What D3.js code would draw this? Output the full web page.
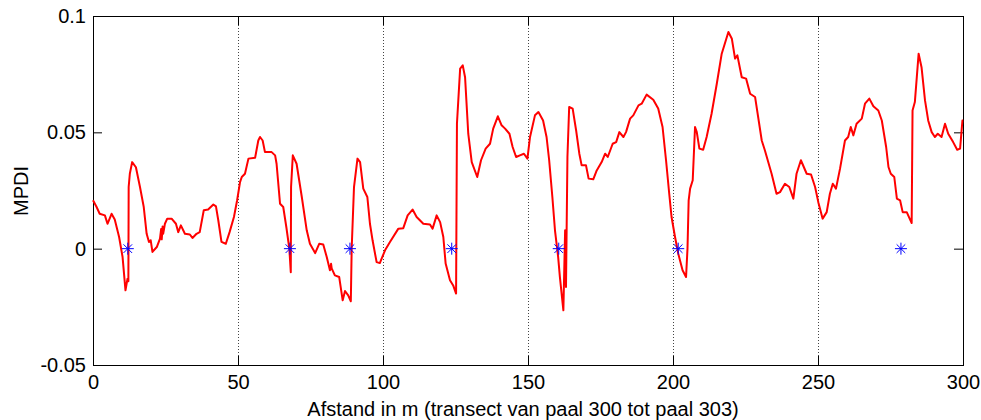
<!DOCTYPE html>
<html>
<head>
<meta charset="utf-8">
<script src="https://cdn.jsdelivr.net/npm/d3@7"></script>
<style>
  html, body { margin: 0; padding: 0; background: #fff; }
  svg { display: block; font-family: "Liberation Sans", Arial, Helvetica, sans-serif; }
</style>
</head>
<body>
<svg id="chart" width="981" height="420"></svg>
<script>
// Distance along the transect (m) and the MPDI profile measured there
const distance = [
  0, 1.2, 2.3, 4.1, 5, 6.4, 7.5, 9, 10.2, 11.2, 11.9, 12.2, 12.3, 12.7, 13.5, 14.8, 16.2, 17.5, 18.5, 19.3,
  19.9, 20.5, 22, 23.1, 23.5, 23.7, 24, 24.2, 24.8, 25.6, 27.1, 28.6, 29.4, 30.3, 31.7, 33.4, 34.3, 35.7, 36.8, 38.2,
  39.7, 41.5, 42.4, 43.2, 44.3, 45.8, 47.1, 48.6, 49.7, 50.7, 51.3, 52.4, 53.6, 55.9, 57, 57.6, 58.5, 59.3, 61.6, 62.8,
  63.3, 64.5, 65.6, 66.7, 67.7, 68.2, 68.3, 68.9, 70.2, 72, 73.7, 74.8, 76.6, 78, 79.4, 80.6, 81.7, 82.1, 82.3, 83.4,
  84.9, 86.1, 86.9, 88, 88.9, 89.2, 90, 91.2, 92.1, 93.2, 94.6, 95.5, 96.4, 97.8, 98.9, 100.7, 102.4, 105.3, 107, 108.5,
  110.2, 111.6, 113.9, 116.2, 117.1, 118.5, 119.7, 120.8, 121.6, 123.1, 124.2, 125.2, 125.5, 126.6, 127.5, 128.3, 129.4, 130.6, 132.5, 133.8,
  135.4, 136.9, 138, 139.6, 140.9, 142.1, 143.6, 144.7, 145.9, 147.2, 148.6, 149.8, 150.7, 152.4, 153.6, 155.2, 156.4, 157.3, 158.4, 159.3,
  160.4, 161, 162.2, 162.8, 163.1, 163.6, 164.2, 165.4, 166.6, 167.7, 168.5, 170, 170.9, 172.5, 173.7, 175.4, 176.6, 177.5, 179.2, 180.4,
  181.5, 182.9, 183.8, 185.2, 186.3, 188.1, 189.2, 190.9, 193.2, 194.9, 196.4, 197.6, 198.7, 199.5, 200.7, 201.8, 203.3, 204.5, 205, 205.4,
  205.9, 206.8, 207.6, 208.2, 209.1, 210.4, 211.6, 213.3, 215.1, 216.8, 219.1, 220.3, 221.4, 222.2, 223.7, 225.2, 226.6, 228.3, 230.6, 231.7,
  234, 235.7, 236.9, 238.6, 240.1, 241.5, 242.6, 244.1, 246.1, 247.6, 249, 250.1, 251.6, 253, 254.1, 255.1, 256.2, 257.6, 259.3, 260.4,
  261.3, 262.2, 263.3, 265.1, 266.2, 267.7, 269.1, 270.8, 272, 273.5, 274.3, 275.1, 276.3, 277.2, 278.3, 279.2, 280.6, 282.3, 282.6, 283.4,
  284.7, 285.7, 286.9, 288, 289.2, 290.3, 291.3, 292.6, 293.8, 294.9, 296.6, 298, 299, 299.8, 300
];
const mpdi = [
  0.0208, 0.018, 0.015, 0.0143, 0.0107, 0.015, 0.0125, 0.005, -0.0036, -0.0179, -0.0129, -0.014, 0.0265, 0.0322, 0.0372, 0.035, 0.0265, 0.0179, 0.0064, 0.0029,
  0.0036, -0.0014, 0.0007, 0.0043, 0.0085, 0.004, 0.0095, 0.0064, 0.0107, 0.0129, 0.0129, 0.0107, 0.0071, 0.01, 0.0064, 0.0061, 0.0046, 0.0064, 0.0071, 0.0165,
  0.0168, 0.019, 0.0182, 0.0122, 0.0029, 0.0021, 0.0071, 0.0136, 0.0208, 0.0286, 0.0308, 0.0322, 0.0387, 0.0391, 0.0465, 0.048, 0.0465, 0.0415, 0.0415, 0.0401,
  0.0365, 0.0193, 0.0179, 0.009, 0, -0.0101, 0.0265, 0.0401, 0.0365, 0.0222, 0.0079, 0.0021, -0.0019, 0.0021, 0.0018, -0.0036, -0.0093, -0.0065, -0.0085, -0.0115,
  -0.0122, -0.0222, -0.0182, -0.0201, -0.0226, 0, 0.0265, 0.0387, 0.0372, 0.0258, 0.0222, 0.0107, 0.0036, -0.0058, -0.0062, -0.0007, 0.0029, 0.0086, 0.0088, 0.0143,
  0.0168, 0.0136, 0.0107, 0.0104, 0.0086, 0.0143, 0.0114, 0.005, -0.0064, -0.0136, -0.0158, -0.0193, 0.0537, 0.0774, 0.0788, 0.0737, 0.0494, 0.0372, 0.0308, 0.038,
  0.043, 0.0451, 0.0516, 0.0569, 0.053, 0.0516, 0.0494, 0.0437, 0.0394, 0.0401, 0.0408, 0.0387, 0.048, 0.0573, 0.0587, 0.0551, 0.048, 0.038, 0.0222, 0.0079,
  -0.0036, -0.0122, -0.0265, 0.0079, -0.0165, 0.0394, 0.0609, 0.0602, 0.0508, 0.0408, 0.0358, 0.0358, 0.0301, 0.0298, 0.0336, 0.0372, 0.0408, 0.0394, 0.0451, 0.0458,
  0.0501, 0.048, 0.0501, 0.0559, 0.0573, 0.0616, 0.0623, 0.0662, 0.064, 0.0602, 0.0523, 0.038, 0.0236, 0.0136, 0.005, -0.0021, -0.0093, -0.0122, 0, 0.0208,
  0.0258, 0.0294, 0.0523, 0.0501, 0.043, 0.0425, 0.048, 0.058, 0.0709, 0.0838, 0.0931, 0.0902, 0.0817, 0.0831, 0.0737, 0.0731, 0.0666, 0.0652, 0.0465, 0.0422,
  0.0322, 0.0236, 0.0243, 0.0279, 0.0265, 0.0215, 0.0322, 0.038, 0.0322, 0.0319, 0.0265, 0.02, 0.0129, 0.0157, 0.0236, 0.0279, 0.0258, 0.0344, 0.0465, 0.048,
  0.0523, 0.0487, 0.0537, 0.0559, 0.0623, 0.0645, 0.0612, 0.0594, 0.0551, 0.0437, 0.0351, 0.0322, 0.0308, 0.0215, 0.0208, 0.0157, 0.0157, 0.011, 0.0594, 0.063,
  0.0838, 0.078, 0.0637, 0.0551, 0.0501, 0.048, 0.0494, 0.048, 0.0537, 0.0494, 0.0458, 0.0425, 0.043, 0.0551, 0.055
];

// Zero crossings marked along the transect
const crossingDistance = [12, 67.9, 88.6, 123.7, 160.6, 201.8, 278.6];
const crossingValue = [0, 0, 0, 0, 0, 0, 0];

// Axis ticks and labels
const xTicks = [0, 50, 100, 150, 200, 250, 300];
const yTicks = [-0.05, 0, 0.05, 0.1];
const yTickLabels = ["-0.05", "0", "0.05", "0.1"];
const gridTicks = [50, 100, 150, 200, 250];
const xTitle = "Afstand in m (transect van paal 300 tot paal 303)";
const yTitle = "MPDI";

const plotLeft = 93, plotRight = 963, plotTop = 16, plotBottom = 365;
const svg = d3.select("#chart");
svg.append("rect").attr("width", 981).attr("height", 420).attr("fill", "#fff");

const x = d3.scaleLinear().domain([0, 300]).range([plotLeft, plotRight]);
const y = d3.scaleLinear().domain([-0.05, 0.1]).range([plotBottom, plotTop]);

// dotted vertical grid
svg.append("g").selectAll("line").data(gridTicks).join("line")
  .attr("x1", d => Math.round(x(d)) + 0.5).attr("x2", d => Math.round(x(d)) + 0.5)
  .attr("y1", plotTop).attr("y2", plotBottom)
  .attr("stroke", "#444").attr("stroke-width", 1).attr("stroke-dasharray", "1,2");

const fontSize = 20;
function styleAxis(g, showText) {
  g.select(".domain").remove();
  g.selectAll(".tick line").attr("stroke", "#000").attr("stroke-width", 1);
  g.selectAll(".tick text").attr("fill", "#000").style("font-size", fontSize + "px")
    .style("font-family", '"Liberation Sans", Arial, sans-serif');
  if (!showText) g.selectAll(".tick text").remove();
}

svg.append("g").attr("transform", `translate(0,${plotBottom})`)
  .call(d3.axisBottom(x).tickValues(xTicks).tickFormat(d3.format("d")).tickSize(-9).tickPadding(10))
  .call(g => styleAxis(g, true));
svg.append("g").attr("transform", `translate(0,${plotTop})`)
  .call(d3.axisTop(x).tickValues(xTicks).tickSize(-9))
  .call(g => styleAxis(g, false));
svg.append("g").attr("transform", `translate(${plotLeft},0)`)
  .call(d3.axisLeft(y).tickValues(yTicks).tickFormat((d, i) => yTickLabels[i]).tickSize(-9).tickPadding(7))
  .call(g => styleAxis(g, true));
svg.append("g").attr("transform", `translate(${plotRight},0)`)
  .call(d3.axisRight(y).tickValues(yTicks).tickSize(-9))
  .call(g => styleAxis(g, false));

// axes box
svg.append("rect")
  .attr("x", plotLeft + 0.5).attr("y", plotTop + 0.5)
  .attr("width", plotRight - plotLeft).attr("height", plotBottom - plotTop)
  .attr("fill", "none").attr("stroke", "#000").attr("stroke-width", 1);

// MPDI profile
const series = distance.map((d, i) => [d, mpdi[i]]);
svg.append("path")
  .datum(series)
  .attr("fill", "none")
  .attr("stroke", "#ff0000")
  .attr("stroke-width", 2)
  .attr("stroke-linejoin", "round")
  .attr("d", d3.line().x(d => x(d[0])).y(d => y(d[1])));

// asterisk markers
const r = 6, rd = 4.3;
const starPath = `M${-r},0H${r}M0,${-r}V${r}M${-rd},${-rd}L${rd},${rd}M${-rd},${rd}L${rd},${-rd}`;
svg.append("g").selectAll("path").data(crossingDistance).join("path")
  .attr("transform", (d, i) => `translate(${x(d)},${y(crossingValue[i])})`)
  .attr("d", starPath)
  .attr("fill", "none")
  .attr("stroke", "#0000ff")
  .attr("stroke-width", 1);

// axis titles
svg.append("text")
  .attr("x", 523).attr("y", 416)
  .attr("text-anchor", "middle")
  .style("font-size", fontSize + "px")
  .text(xTitle);
svg.append("text")
  .attr("transform", `translate(28,191) rotate(-90)`)
  .attr("text-anchor", "middle")
  .style("font-size", fontSize + "px")
  .text(yTitle);
</script>
</body>
</html>
